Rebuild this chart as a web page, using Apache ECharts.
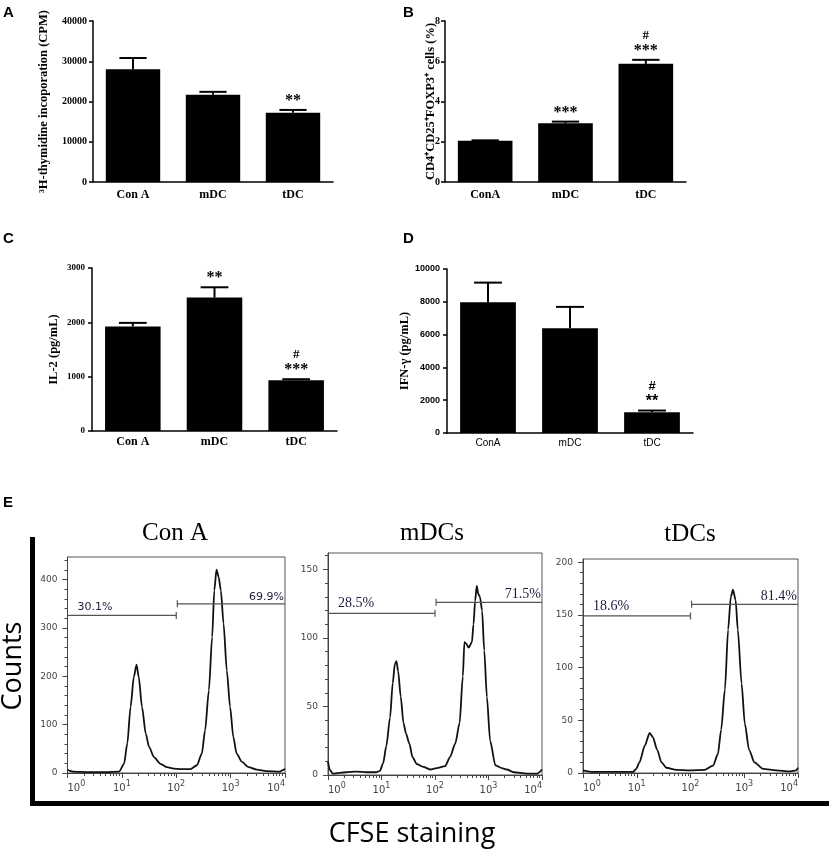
<!DOCTYPE html>
<html>
<head>
<meta charset="utf-8">
<script src="https://cdn.jsdelivr.net/npm/echarts@6/dist/echarts.min.js"></script>
<style>html,body{margin:0;padding:0;background:#fff}#main{width:829px;height:854px}</style>
</head>
<body>
<div id="main"></div>
<script>
// ---- bar panels (A-D): mean, upper error, significance marks ----
var groupsA = ['Con A', 'mDC', 'tDC'];
var meanA = [28000, 21700, 17200];
var errA = [2800, 700, 700];
var starsA = ['', '', '**'];
var hashA = ['', '', ''];

var groupsB = ['ConA', 'mDC', 'tDC'];
var meanB = [2.05, 2.92, 5.87];
var errB = [0.02, 0.08, 0.2];
var starsB = ['', '***', '***'];
var hashB = ['', '', '#'];

var groupsC = ['Con A', 'mDC', 'tDC'];
var meanC = [1925, 2455, 935];
var errC = [65, 190, 18];
var starsC = ['', '**', '***'];
var hashC = ['', '', '#'];

var groupsD = ['ConA', 'mDC', 'tDC'];
var meanD = [7970, 6390, 1270];
var errD = [1200, 1300, 100];
var starsD = ['', '', '**'];
var hashD = ['', '', '#'];

// ---- CFSE histograms (E): [log10 CFSE, counts] ----
var conAHist = [[0,7],[0.03,5],[0.1,3],[0.4,2],[0.7,2],[0.95,3],[1.04,19],[1.10,61],[1.16,137],[1.22,199],[1.27,224],[1.31,199],[1.37,137],[1.44,81],[1.50,54],[1.59,33],[1.71,19],[1.83,12],[1.95,9],[2.1,8],[2.26,8],[2.38,16],[2.47,40],[2.53,88],[2.60,171],[2.66,281],[2.70,378],[2.74,421],[2.78,406],[2.82,378],[2.87,309],[2.93,212],[2.99,137],[3.05,74],[3.11,40],[3.21,23],[3.33,12],[3.48,7],[3.66,4],[3.91,3],[3.98,7],[4.0,9]];
var mdcHist = [[0,10],[0.03,4],[0.09,1],[0.34,2],[0.53,2.5],[0.72,2],[0.91,2],[0.97,3],[1.03,8.5],[1.09,21],[1.16,42],[1.21,67],[1.25,81],[1.28,83],[1.31,76],[1.36,57],[1.41,38],[1.46,30],[1.52,23],[1.58,13],[1.66,8],[1.78,6],[1.91,4],[2.03,5],[2.19,6.5],[2.28,13],[2.38,23],[2.46,38],[2.52,72],[2.55,97],[2.58,96],[2.63,93],[2.69,97],[2.72,110],[2.75,127],[2.78,138],[2.81,132],[2.84,130],[2.88,120],[2.92,91],[2.97,57],[3.03,25],[3.13,7],[3.25,5],[3.34,4],[3.47,2],[3.72,1],[3.91,1],[4.0,4]];
var tdcHist = [[0,2.5],[0.19,1],[0.62,1],[0.93,1],[0.99,4],[1.05,10],[1.15,26],[1.24,38],[1.30,34],[1.38,22],[1.46,10],[1.55,5],[1.74,3],[1.98,2.5],[2.26,3],[2.42,7],[2.51,18],[2.57,41],[2.64,79],[2.70,136],[2.75,167],[2.79,174],[2.84,164],[2.88,136],[2.95,85],[3.01,47],[3.09,22],[3.19,10],[3.35,4],[3.60,2.5],[3.84,1.5],[3.97,2.5],[4.0,5]];

// gates: [from, to, height]
var conAGates = [[0, 2, 326], [2.02, 4, 350]];
var mdcGates = [[0, 2, 118], [2.02, 4, 126]];
var tdcGates = [[0, 2, 149], [2.02, 4, 160]];
var conAPct = ['30.1%', '69.9%'];
var mdcPct = ['28.5%', '71.5%'];
var tdcPct = ['18.6%', '81.4%'];

var conATicks = [0, 100, 200, 300, 400];
var mdcTicks = [0, 50, 100, 150];
var tdcTicks = [0, 50, 100, 150, 200];
var decadeTicks = [0, 1, 2, 3, 4];

var chart = echarts.init(document.getElementById('main'));

var option = {
  animation: false,
  textStyle: { fontFamily: 'Liberation Serif' },
  grid: [],
  xAxis: [],
  yAxis: [],
  series: [],
  graphic: []
};

function plain(v) { return String(v); }

function errorBars(stars, hash, sans) {
  return function (params, api) {
    var i = api.value(0);
    var base = api.coord([i, api.value(1)]);
    var tip = api.coord([i, api.value(1) + api.value(2)]);
    var hw = api.size([1, 0])[0] * 0.17;
    var fam = sans ? 'Liberation Sans' : 'Liberation Serif';
    var kids = [
      { type: 'line', shape: { x1: base[0], y1: base[1], x2: tip[0], y2: tip[1] }, style: { stroke: '#000', lineWidth: 2 } },
      { type: 'line', shape: { x1: tip[0] - hw, y1: tip[1], x2: tip[0] + hw, y2: tip[1] }, style: { stroke: '#000', lineWidth: 2 } }
    ];
    if (stars[i]) {
      kids.push({ type: 'text', style: { text: stars[i], x: tip[0], y: tip[1] - 1, textAlign: 'center', textVerticalAlign: 'bottom', font: 'bold 16px "' + fam + '"', fill: '#000' } });
    }
    if (hash[i]) {
      kids.push({ type: 'text', style: { text: hash[i], x: tip[0], y: tip[1] - 18, textAlign: 'center', textVerticalAlign: 'bottom', font: 'bold 13px "' + fam + '"', fill: '#000' } });
    }
    return { type: 'group', children: kids };
  };
}

function barPanel(box, cats, mean, err, stars, hash, yMax, yStep, yName, nameGap, o) {
  var g = option.grid.length;
  option.grid.push({ left: box[0], top: box[1], width: box[2], height: box[3], outerBoundsMode: 'none' });
  var fam = o.sans ? 'Liberation Sans' : 'Liberation Serif';
  option.xAxis.push({
    gridIndex: g, type: 'category', data: cats,
    axisTick: { show: false },
    axisLine: { lineStyle: { color: '#000', width: 1.5 } },
    axisLabel: { color: '#000', fontFamily: fam, fontWeight: o.sans ? 'normal' : 'bold', fontSize: o.catSize, margin: o.catMargin }
  });
  option.yAxis.push({
    gridIndex: g, type: 'value', min: 0, max: yMax, interval: yStep,
    name: yName, nameLocation: 'middle', nameGap: nameGap, nameMoveOverlap: false,
    nameTextStyle: { color: '#000', fontFamily: 'Liberation Serif', fontWeight: 'bold', fontSize: o.nameSize },
    axisLine: { show: true, lineStyle: { color: '#000', width: 1.5 } },
    axisTick: { show: true, length: 4, lineStyle: { color: '#000', width: 1.5 } },
    splitLine: { show: false },
    axisLabel: { color: '#000', fontFamily: fam, fontWeight: 'bold', fontSize: o.tickSize, margin: o.tickMargin, formatter: plain }
  });
  option.series.push({
    type: 'bar', xAxisIndex: g, yAxisIndex: g, data: mean,
    barWidth: '68%', itemStyle: { color: '#000' }
  });
  option.series.push({
    type: 'custom', xAxisIndex: g, yAxisIndex: g, clip: false, z: 5,
    encode: { x: 0, y: 1 },
    data: mean.map(function (m, i) { return [i, m, err[i]]; }),
    renderItem: errorBars(stars, hash, o.sans)
  });
}

function minorLogTicks() {
  var t = [];
  for (var d = 0; d < 4; d++) {
    for (var k = 2; k <= 9; k++) t.push(d + Math.log10(k));
  }
  return t;
}

function stepTicks(step, max, skip) {
  var t = [];
  for (var v = step; v <= max; v += step) if (v % skip !== 0) t.push(v);
  return t;
}

function gateRender(pct, pctFont) {
  return function (params, api) {
    var i = params.dataIndex;
    var a = api.coord([api.value(0), api.value(2)]);
    var b = api.coord([api.value(1), api.value(2)]);
    var endX = i === 0 ? b[0] : a[0];
    var kids = [
      { type: 'line', shape: { x1: a[0], y1: a[1], x2: b[0], y2: b[1] }, style: { stroke: '#555', lineWidth: 1.2 } },
      { type: 'line', shape: { x1: endX, y1: a[1] - 3.5, x2: endX, y2: a[1] + 3.5 }, style: { stroke: '#555', lineWidth: 1.2 } }
    ];
    kids.push({
      type: 'text',
      style: {
        text: pct[i],
        x: i === 0 ? a[0] + 10 : b[0] - 1,
        y: a[1] - (i === 0 ? 3 : 1),
        textAlign: i === 0 ? 'left' : 'right',
        textVerticalAlign: 'bottom',
        font: pctFont,
        fill: '#1c1c3c'
      }
    });
    return { type: 'group', children: kids };
  };
}

var hiddenLine = { show: true, lineStyle: { color: '#444', opacity: 0 } };

function histPanel(box, hist, yMax, yTicks, yMinorStep, gates, pct, pctFont) {
  var g = option.grid.length;
  option.grid.push({ left: box[0], top: box[1], width: box[2], height: box[3], show: true, borderColor: '#555', borderWidth: 1, outerBoundsMode: 'none' });
  var xi = option.xAxis.length;
  var yi = option.yAxis.length;
  option.xAxis.push({
    gridIndex: g, type: 'value', min: 0, max: 4, interval: 1, position: 'bottom',
    axisLine: { show: true, onZero: false, lineStyle: { color: '#444', width: 1 } },
    axisTick: { show: true, length: 5, lineStyle: { color: '#444' } },
    splitLine: { show: false },
    axisLabel: {
      margin: 7, alignMinLabel: 'left', alignMaxLabel: 'right', color: '#444',
      formatter: function (v) { return '{b|10}{s|' + v + '}'; },
      rich: {
        b: { fontFamily: 'DejaVu Sans', fontSize: 10, color: '#444' },
        s: { fontFamily: 'DejaVu Sans', fontSize: 8, color: '#444', padding: [0, 0, 8, 0] }
      }
    }
  });
  option.xAxis.push({
    gridIndex: g, type: 'value', min: 0, max: 4, position: 'bottom',
    axisLine: { show: true, onZero: false, lineStyle: { color: '#444', opacity: 0 } },
    axisTick: { show: true, length: 3, customValues: minorLogTicks(), lineStyle: { color: '#444' } },
    axisLabel: { show: false },
    splitLine: { show: false }
  });
  option.yAxis.push({
    gridIndex: g, type: 'value', min: 0, max: yMax, position: 'left',
    axisLine: { show: true, onZero: false, lineStyle: { color: '#444', width: 1 } },
    axisTick: { show: true, length: 5, customValues: yTicks, lineStyle: { color: '#444' } },
    splitLine: { show: false },
    axisLabel: { margin: 10, customValues: yTicks, color: '#444', fontFamily: 'DejaVu Sans', fontSize: 9 }
  });
  option.yAxis.push({
    gridIndex: g, type: 'value', min: 0, max: yMax, position: 'left',
    axisLine: { show: true, onZero: false, lineStyle: { color: '#444', opacity: 0 } },
    axisTick: { show: true, length: 3, customValues: stepTicks(yMinorStep, yMax, yTicks[1]), lineStyle: { color: '#444' } },
    axisLabel: { show: false },
    splitLine: { show: false }
  });
  option.series.push({
    type: 'line', xAxisIndex: xi, yAxisIndex: yi, data: hist,
    showSymbol: false, smooth: 0.25, smoothMonotone: 'x',
    lineStyle: { color: '#111', width: 1.8 }
  });
  // empty series so the minor-tick axes are in use
  option.series.push({ type: 'line', xAxisIndex: xi + 1, yAxisIndex: yi + 1, data: [], showSymbol: false });
  option.series.push({
    type: 'custom', xAxisIndex: xi, yAxisIndex: yi, clip: false, z: 4,
    encode: { x: [0, 1], y: 2 },
    data: gates,
    renderItem: gateRender(pct, pctFont)
  });
}

barPanel([93, 21, 240, 161], groupsA, meanA, errA, starsA, hashA, 40000, 10000,
  '\u00b3H-thymidine incoporation (CPM)', 43,
  { catSize: 12, catMargin: 7, tickSize: 10, tickMargin: 6, nameSize: 12.5 });
barPanel([445, 21, 241, 161], groupsB, meanB, errB, starsB, hashB, 8, 2,
  'CD4\u207aCD25\u207aFOXP3\u207a cells (%)', 8,
  { catSize: 12, catMargin: 7, tickSize: 10, tickMargin: 5, nameSize: 12.5 });
barPanel([92, 268, 245, 163], groupsC, meanC, errC, starsC, hashC, 3000, 1000,
  'IL-2 (pg/mL)', 32,
  { catSize: 12, catMargin: 5, tickSize: 9, tickMargin: 7, nameSize: 12.5 });
barPanel([447, 269, 246, 164], groupsD, meanD, errD, starsD, hashD, 10000, 2000,
  'IFN-\u03b3 (pg/mL)', 36,
  { catSize: 10, catMargin: 5, tickSize: 9, tickMargin: 7, nameSize: 12.5, sans: true });

histPanel([67.5, 557, 217.5, 216], conAHist, 447, conATicks, 20, conAGates, conAPct, '11px "DejaVu Sans"');
histPanel([328, 553, 214, 222], mdcHist, 162, mdcTicks, 10, mdcGates, mdcPct, '14px "Liberation Serif"');
histPanel([583, 559, 215, 214], tdcHist, 203, tdcTicks, 10, tdcGates, tdcPct, '14px "Liberation Serif"');

function label(text, x, y, font, align, rot) {
  option.graphic.push({
    type: 'text', x: x, y: y, rotation: rot || 0,
    style: { text: text, x: 0, y: 0, textAlign: align || 'left', textVerticalAlign: 'middle', font: font, fill: '#000' }
  });
}
var letterFont = 'bold 15px "Liberation Sans"';
label('A', 3, 13, letterFont);
label('B', 403, 13, letterFont);
label('C', 3, 239, letterFont);
label('D', 403, 239, letterFont);
label('E', 3, 503, letterFont);
label('Con A', 175, 533, '25px "Liberation Serif"', 'center');
label('mDCs', 432, 533, '25px "Liberation Serif"', 'center');
label('tDCs', 690, 534, '25px "Liberation Serif"', 'center');
label('Counts', 13, 666, '27px "Open Sans"', 'center', Math.PI / 2);
label('CFSE staining', 412, 834, '27px "Open Sans"', 'center');

option.graphic.push({ type: 'line', shape: { x1: 32.5, y1: 537, x2: 32.5, y2: 806 }, style: { stroke: '#000', lineWidth: 5 } });
option.graphic.push({ type: 'line', shape: { x1: 30, y1: 803.5, x2: 829, y2: 803.5 }, style: { stroke: '#000', lineWidth: 5 } });

chart.setOption(option);
</script>
</body>
</html>
